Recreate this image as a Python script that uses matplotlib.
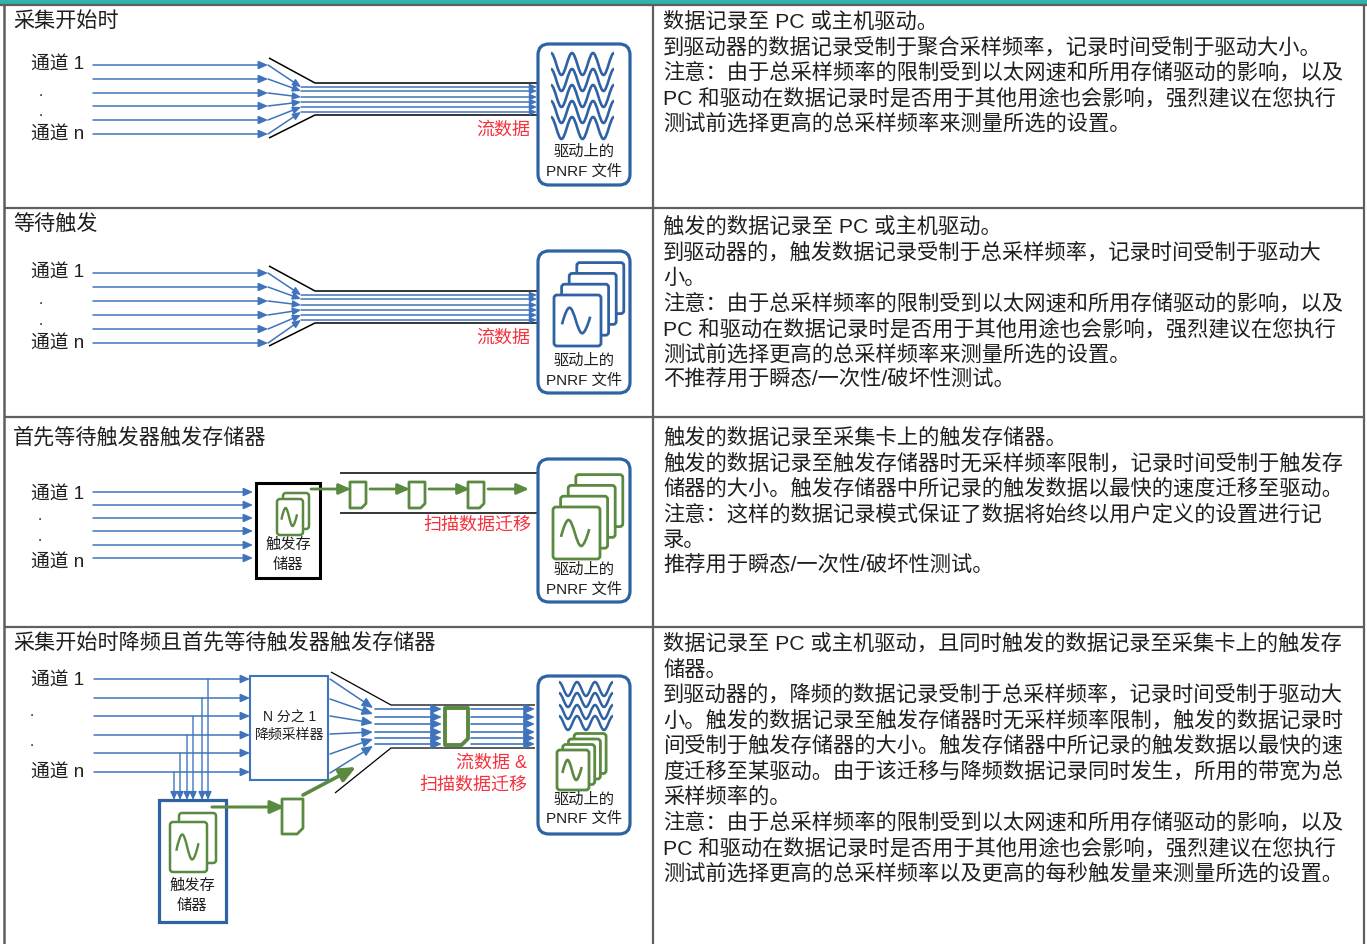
import matplotlib
matplotlib.use('Agg')
import matplotlib.pyplot as plt
from matplotlib.patches import FancyBboxPatch, Polygon, PathPatch, Rectangle
from matplotlib.path import Path

plt.rcParams['font.family'] = ['Liberation Sans', 'Noto Sans CJK SC', 'DejaVu Sans']

# 表格文字
row_titles = ['采集开始时', '等待触发', '首先等待触发器触发存储器', '采集开始时降频且首先等待触发器触发存储器']

row1_lines = ['数据记录至 PC 或主机驱动。',
              '到驱动器的数据记录受制于聚合采样频率，记录时间受制于驱动大小。',
              '注意：由于总采样频率的限制受到以太网速和所用存储驱动的影响，以及',
              'PC 和驱动在数据记录时是否用于其他用途也会影响，强烈建议在您执行',
              '测试前选择更高的总采样频率来测量所选的设置。']
row2_lines = ['触发的数据记录至 PC 或主机驱动。',
              '到驱动器的，触发数据记录受制于总采样频率，记录时间受制于驱动大',
              '小。',
              '注意：由于总采样频率的限制受到以太网速和所用存储驱动的影响，以及',
              'PC 和驱动在数据记录时是否用于其他用途也会影响，强烈建议在您执行',
              '测试前选择更高的总采样频率来测量所选的设置。',
              '不推荐用于瞬态/一次性/破坏性测试。']
row3_lines = ['触发的数据记录至采集卡上的触发存储器。',
              '触发的数据记录至触发存储器时无采样频率限制，记录时间受制于触发存',
              '储器的大小。触发存储器中所记录的触发数据以最快的速度迁移至驱动。',
              '注意：这样的数据记录模式保证了数据将始终以用户定义的设置进行记',
              '录。',
              '推荐用于瞬态/一次性/破坏性测试。']
row4_lines = ['数据记录至 PC 或主机驱动，且同时触发的数据记录至采集卡上的触发存',
              '储器。',
              '到驱动器的，降频的数据记录受制于总采样频率，记录时间受制于驱动大',
              '小。触发的数据记录至触发存储器时无采样频率限制，触发的数据记录时',
              '间受制于触发存储器的大小。触发存储器中所记录的触发数据以最快的速',
              '度迁移至某驱动。由于该迁移与降频数据记录同时发生，所用的带宽为总',
              '采样频率的。',
              '注意：由于总采样频率的限制受到以太网速和所用存储驱动的影响，以及',
              'PC 和驱动在数据记录时是否用于其他用途也会影响，强烈建议在您执行',
              '测试前选择更高的总采样频率以及更高的每秒触发量来测量所选的设置。']
all_lines = [row1_lines, row2_lines, row3_lines, row4_lines]
line_tops = [28, 233, 444, 650]

ch1_label = '通道 1'
chn_label = '通道 n'
file_label = ['驱动上的', 'PNRF 文件']
mem_label = ['触发存', '储器']
dec_label = ['N 分之 1', '降频采样器']

# 各通道的 y 位置
row1_in = [65, 79, 93, 106, 120, 134]
row1_mid = [87, 91, 97, 102, 107, 112]
row2_in = [273, 287, 301, 315, 329, 343]
row2_mid = [295, 299, 305, 310, 315, 320]
row3_in = [492, 505, 518, 531, 545, 558]
row4_in = [679, 698, 716, 735, 753, 772]
row4_out = [679, 699, 716, 734, 754, 773]
row4_conv = [708, 714, 723, 732, 739, 746]
row4_mid = [709, 717, 724, 732, 738, 744]
row4_taps = [208, 202, 193, 187, 180, 174]

BLUE = '#3f74bd'
DARK = '#2f62a3'
GREEN = '#5a8a40'
RED = '#f5333f'
GRID = '#5f5f5f'
TEAL = '#2fb3ab'
TXT = '#1f1f1f'

fig = plt.figure(figsize=(13.67, 9.44), dpi=100)
ax = fig.add_axes([0, 0, 1, 1])
ax.set_xlim(0, 1367)
ax.set_ylim(944, 0)
ax.axis('off')


def arrow(x0, y0, x1, y1, color=BLUE, lw=1.1, head=7, z=3):
    ax.annotate('', xy=(x1, y1), xytext=(x0, y0), zorder=z,
                arrowprops=dict(arrowstyle='-|>,head_length=0.5,head_width=0.22', color=color, lw=lw,
                                mutation_scale=head * 1.6, shrinkA=0, shrinkB=0))


def line(xs, ys, color='black', lw=1.1, z=2):
    ax.plot(xs, ys, color=color, lw=lw, zorder=z, solid_capstyle='butt')


def label(x, y, s, size=11, color=TXT, ha='center'):
    ax.text(x, y, s, fontsize=size, color=color, ha=ha, va='center', zorder=6)


def round_box(x0, y0, x1, y1, r, color, lw, z=4, fill='white'):
    ax.add_patch(FancyBboxPatch((x0, y0), x1 - x0, y1 - y0, boxstyle='round,pad=0,rounding_size=%g' % r,
                                fc=fill, ec=color, lw=lw, zorder=z))


def wave(x0, x1, yc, amp, halves, color, lw, z=7):
    # 用贝塞尔曲线画波形图标，从波峰开始
    dx = (x1 - x0) / halves
    sign = -1
    verts = [(x0, yc + sign * amp)]
    codes = [Path.MOVETO]
    for i in range(halves):
        xa = x0 + i * dx
        xb = xa + dx
        verts += [(xa + dx * 0.35, yc + sign * amp), (xb - dx * 0.35, yc - sign * amp), (xb, yc - sign * amp)]
        codes += [Path.CURVE4] * 3
        sign = -sign
    ax.add_patch(PathPatch(Path(verts, codes), fc='none', ec=color, lw=lw, zorder=z))


def sine_icon(x0, y0, w, h, color, lw, z):
    # 页面中间的一个周期
    xs = [x0 + w * 0.17, x0 + w * 0.33, x0 + w * 0.60, x0 + w * 0.77]
    yc = y0 + h * 0.5
    amp = h * 0.25
    verts = [(xs[0], yc + amp * 0.3),
             (xs[0] + w * 0.05, yc - amp * 0.4), (xs[1] - w * 0.05, yc - amp), (xs[1], yc - amp),
             (xs[1] + w * 0.10, yc - amp), (xs[2] - w * 0.10, yc + amp), (xs[2], yc + amp),
             (xs[2] + w * 0.05, yc + amp), (xs[3] - w * 0.05, yc + amp * 0.4), (xs[3], yc - amp * 0.3)]
    codes = [Path.MOVETO] + [Path.CURVE4] * 9
    ax.add_patch(PathPatch(Path(verts, codes), fc='none', ec=color, lw=lw, zorder=z))


def pages(x0, y0, w, h, dx, dy, n, color, lw, z=5, r=3):
    # 从后往前画
    for i in range(n - 1, -1, -1):
        round_box(x0 + i * dx, y0 - i * dy, x0 + i * dx + w, y0 - i * dy + h, r, color, lw, z=z + (n - i) * 0.1)
    sine_icon(x0, y0, w, h, color, lw * 0.95, z + 1)


def doc(x0, y0, x1, y1, color=GREEN, lw=2.0, z=5):
    c = (x1 - x0) * 0.28
    ax.add_patch(Polygon([(x0, y0), (x1, y0), (x1, y1 - c), (x1 - c, y1), (x0, y1)], closed=True,
                         fc='white', ec=color, lw=lw, zorder=z, joinstyle='round'))


def channels(ys, x0, x1, ylab1, ylabn, xdots, ydots):
    for y in ys:
        arrow(x0, y, x1, y)
    label(31, ylab1 + 2.5, ch1_label, size=13.5, ha='left')
    label(31, ylabn + 2.5, chn_label, size=13.5, ha='left')
    for yd in ydots:
        label(xdots, yd - 1, '.', size=11)


def file_box(y0, y1, ytext1, ytext2):
    round_box(538, y0, 630, y1, 11, DARK, 2.3)
    label(584, ytext1, file_label[0])
    label(584, ytext2, file_label[1])


# 表格框线
ax.add_patch(Rectangle((0, 0), 1367, 4, fc=TEAL, ec='none', zorder=1))
line([0, 1367], [4.5, 4.5], GRID, 1.6)
for y in [207.5, 417, 626.5]:
    line([4, 1364], [y, y], GRID, 1.6)
line([4, 4], [4, 944], GRID, 1.8)
line([653, 653], [4, 944], GRID, 1.6)
line([1364, 1364], [4, 944], GRID, 1.6)

# 右列和标题文字
for title, ty in zip(row_titles, [21, 225, 438, 643]):
    label(13, ty, title, size=15.2, ha='left')
for lines, top in zip(all_lines, line_tops):
    for i, s in enumerate(lines):
        ax.text(663, top + i * 25.5, s, fontsize=15.3, color=TXT, ha='left', va='baseline', zorder=6)

# 第一行 / 第二行
for ins, mids, off in [(row1_in, row1_mid, 0), (row2_in, row2_mid, 208)]:
    channels(ins, 93, 268, ins[0] - 2, ins[-1] - 1, 41, [ins[2], ins[3] + 7])
    for a, b in zip(ins, mids):
        arrow(268, a, 301, b, head=6)
        arrow(301, b, 537, b, head=5)
    line([269, 315, 537], [58 + off, 83 + off, 83 + off])
    line([269, 315, 537], [138 + off, 115 + off, 115 + off])
    label(503, 130 + off, '流数据', size=13, color=RED)

file_box(44, 185, 152, 172)
for yc in [64, 80, 96, 112, 128]:
    wave(551, 614, yc, 11, 6, DARK, 1.9)

file_box(251, 393, 361, 381)
pages(554, 295, 47, 51, 7.6, 10.8, 4, DARK, 2.0)

# 第三行
channels(row3_in, 93, 253, 493, 561, 40, [517, 538])
ax.add_patch(Rectangle((256, 483), 64, 95, fc='white', ec='black', lw=2.2, zorder=4))
pages(277, 499, 26, 36, 6, 6, 2, GREEN, 1.8)
label(288, 545, mem_label[0])
label(288, 565, mem_label[1])
line([340, 537], [473, 473])
line([340, 537], [513, 513])
arrow(311, 489, 351, 489, GREEN, 2.0, 9, z=7)
for x0, x1 in [(350, 366), (409, 425), (468, 484)]:
    doc(x0, 482, x1, 508)
arrow(370, 489, 410, 489, GREEN, 2.0, 9, z=7)
arrow(429, 489, 470, 489, GREEN, 2.0, 9, z=7)
arrow(488, 489, 529, 489, GREEN, 2.0, 9, z=7)
label(477, 525, '扫描数据迁移', size=13, color=RED)
file_box(459, 602, 570, 590)
pages(553, 507, 47, 52, 7.6, 10.8, 4, GREEN, 2.0)

# 第四行
channels(row4_in, 94, 250, 679, 771, 32, [713, 743])
ax.add_patch(Rectangle((250, 676), 78, 104, fc='white', ec=BLUE, lw=1.5, zorder=4))
label(290, 718, dec_label[0], size=10)
label(290, 735, dec_label[1], size=10)
for x, y in zip(row4_taps, row4_in):
    arrow(x, y, x, 800, lw=1.0, head=6)
ax.add_patch(Rectangle((159, 800), 67, 122, fc='white', ec=DARK, lw=2.3, zorder=4))
pages(170, 822, 37, 50, 9, 9, 2, GREEN, 1.8)
label(192, 886, mem_label[0])
label(192, 906, mem_label[1])
arrow(212, 807, 285, 807, GREEN, 2.2, 11, z=7)
doc(282, 799, 303, 834)
arrow(303, 795, 356, 767, GREEN, 2.6, 12, z=7)
for a, b, c in zip(row4_out, row4_conv, row4_mid):
    arrow(330, a, 373, b, head=8)
    arrow(375, c, 442, c, lw=1.2, head=8)
    arrow(471, c, 535, c, lw=1.2, head=8)
line([331, 391, 535], [672, 705, 705], lw=0.9)
line([335, 391, 535], [793, 748, 748], lw=0.9)
doc(445, 708, 468, 745, lw=2.8)
label(527, 763, '流数据 &', size=13, color=RED, ha='right')
label(527, 785, '扫描数据迁移', size=13, color=RED, ha='right')
file_box(676, 834, 800, 819)
for yc in [689, 700, 712, 723]:
    wave(559, 613, yc, 7, 6, DARK, 1.8)
pages(557, 750, 32, 40, 5.7, 5.5, 4, GREEN, 2.0)

fig.savefig('out.png', dpi=100)
